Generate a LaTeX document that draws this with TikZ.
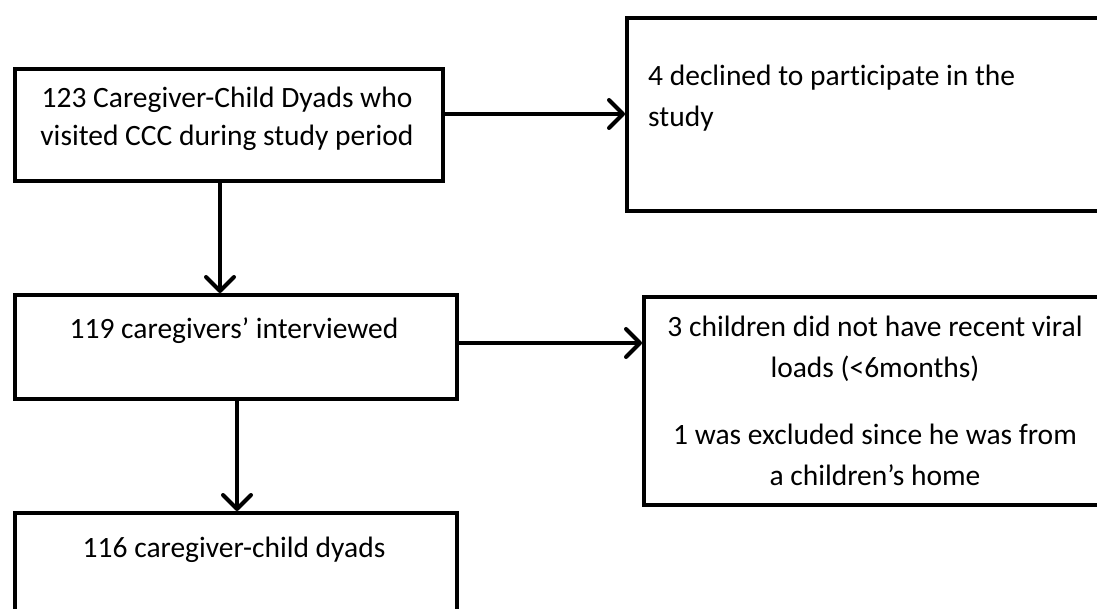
\documentclass[tikz,border=0pt]{standalone}
\usepackage{fontspec}
\setmainfont[Ligatures=CommonOff]{Carlito}
\usetikzlibrary{arrows.meta,calc}
\begin{document}
\begin{tikzpicture}[x=1pt,y=-1pt,
  box/.style={draw=black,line width=4pt,rectangle,inner sep=0pt,anchor=north west},
  arr/.style={draw=black,line width=4pt,-{Straight Barb[length=14pt,width=28pt,line cap=round,line join=round]}},
  txt/.style={inner sep=0pt,font=\fontsize{29.5}{38}\selectfont}]
\useasboundingbox (0,0) rectangle (1097,609);
\clip (0,0) rectangle (1097,609);
\node[box,minimum width=428pt,minimum height=112pt] (A) at (13,67) {};
\node[box,minimum width=500pt,minimum height=193pt] (B) at (625,16) {};
\node[box,minimum width=500pt,minimum height=208pt] (C) at (642,295) {};
\node[box,minimum width=442pt,minimum height=104pt] (D) at (13,293) {};
\node[box,minimum width=442pt,minimum height=130pt] (E) at (13,511) {};
\node[txt,align=center,anchor=base] (tA) at (227,146) {123 Caregiver-Child Dyads who\\visited CCC during study period};
\node[txt,align=left,anchor=base west,font=\fontsize{29.5}{41}\selectfont] (tB) at (648,127) {4 declined to participate in the\\study};
\node[txt,align=center,anchor=base,font=\fontsize{29.5}{41}\selectfont] (tC) at (875,485) {3 children did not have recent viral\\loads (<6months)\\[26pt]1 was excluded since he was from\\a children’s home};
\node[txt,anchor=base] (tD) at (234,338) {119 caregivers’ interviewed};
\node[txt,anchor=base] (tE) at (234,557) {116 caregiver-child dyads};
\draw[arr] (A.east |- 0,114) -- (B.west |- 0,114);
\draw[arr] (A.south -| 220,0) -- (D.north -| 220,0);
\draw[arr] (D.east |- 0,343) -- (C.west |- 0,343);
\draw[arr] (D.south -| 237,0) -- (E.north -| 237,0);
\end{tikzpicture}
\end{document}
